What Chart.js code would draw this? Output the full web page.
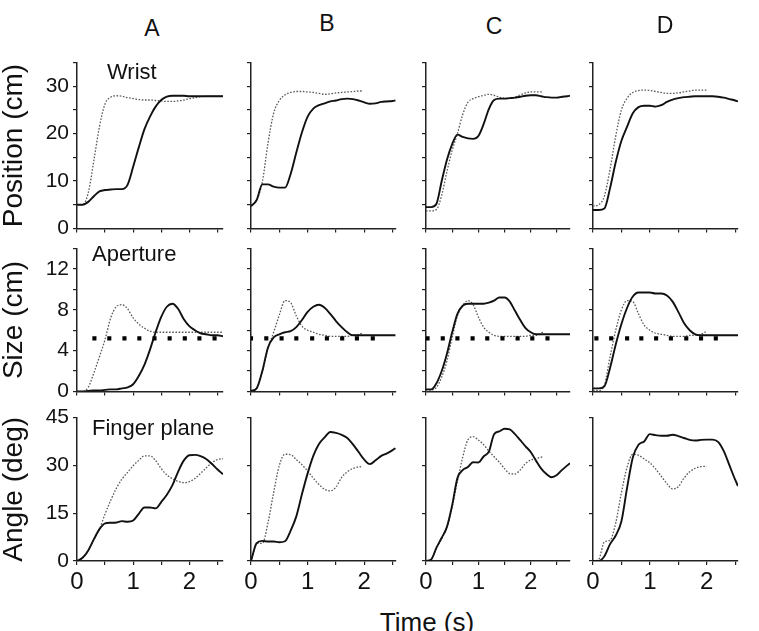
<!DOCTYPE html>
<html><head><meta charset="utf-8">
<script src="https://cdn.jsdelivr.net/npm/chart.js@4.4.1/dist/chart.umd.min.js"></script>
<style>
html,body{margin:0;padding:0;background:#fff;}
body{width:759px;height:631px;overflow:hidden;position:relative;font-family:"Liberation Sans",Arial,sans-serif;color:#111;}
canvas{position:absolute;}
.lbl{position:absolute;white-space:nowrap;line-height:1;}
</style></head><body>
<script>
// ---------- DATA ----------
const columnNames = ['A','B','C','D'];
const panelNames = ['Wrist','Aperture','Finger plane'];
const yTitles = ['Position (cm)','Size (cm)','Angle (deg)'];
const xTitle = 'Time (s)';

// time bases (s)
const tA = [0,0.1,0.2,0.3,0.4,0.5,0.6,0.7,0.8,0.9,1.0,1.1,1.2,1.3,1.4,1.5,1.6,1.7,1.8,1.9,2.0,2.1,2.2,2.3,2.4,2.5,2.6];
const tB = [0,0.1,0.2,0.3,0.4,0.5,0.6,0.7,0.8,0.9,1.0,1.1,1.2,1.3,1.4,1.5,1.6,1.7,1.8,1.9,2.0,2.1,2.2,2.3,2.4,2.5,2.55];
const tC = [0,0.1,0.2,0.3,0.4,0.5,0.6,0.7,0.8,0.9,1.0,1.1,1.2,1.3,1.4,1.5,1.6,1.7,1.8,1.9,2.0,2.1,2.2,2.3,2.4,2.5,2.6,2.7,2.75];
const tD = [0,0.1,0.2,0.3,0.4,0.5,0.6,0.7,0.8,0.9,1.0,1.1,1.2,1.3,1.4,1.5,1.6,1.7,1.8,1.9,2.0,2.1,2.2,2.3,2.4,2.5,2.55];
const tBdot = [0,0.1,0.2,0.3,0.4,0.5,0.6,0.7,0.8,0.9,1.0,1.1,1.2,1.3,1.4,1.5,1.6,1.7,1.8,1.9,1.96];
const tCdot = [0,0.1,0.2,0.3,0.4,0.5,0.6,0.7,0.8,0.9,1.0,1.1,1.2,1.3,1.4,1.5,1.6,1.7,1.8,1.9,2.0,2.1,2.2,2.24];
const tDdot = [0,0.1,0.2,0.3,0.4,0.5,0.6,0.7,0.8,0.9,1.0,1.1,1.2,1.3,1.4,1.5,1.6,1.7,1.8,1.9,2.0];

// Wrist position (cm): solid and dotted
const posA_solid = [5.0,5.0,5.6,6.8,7.8,8.1,8.2,8.3,8.3,9.2,13.0,17.1,20.9,23.6,25.7,27.1,27.8,28.0,28.0,28.0,27.9,27.9,27.9,27.9,27.9,27.9,27.9];
const posA_dot   = [5.0,5.0,7.5,14.3,21.5,26.3,27.7,28.0,27.9,27.6,27.4,27.2,27.1,27.1,27.0,26.9,26.8,26.8,26.9,27.1,27.4,27.6,27.8,27.9,27.9,27.9,27.9];
const posB_solid = [4.7,6.0,9.3,9.3,8.8,8.6,8.6,11.5,16.0,20.3,23.6,25.3,26.0,26.4,26.8,27.0,27.3,27.4,27.3,27.0,26.6,26.3,26.4,26.7,26.8,26.9,27.0];
const posB_dot   = [4.7,6.0,9.8,18.0,24.3,27.0,28.2,28.7,28.9,28.9,28.8,28.7,28.5,28.3,28.4,28.6,28.7,28.8,28.9,29.0,29.0];
const posC_solid = [4.5,4.5,5.2,10.0,14.5,17.8,19.8,19.3,19.0,18.9,19.5,22.0,25.2,27.1,27.4,27.4,27.5,27.6,27.8,28.0,28.1,28.1,27.9,27.7,27.6,27.6,27.8,27.9,28.0];
const posC_dot   = [3.7,3.7,4.0,7.0,12.0,16.5,20.0,24.0,26.6,27.4,27.8,28.1,28.3,28.1,27.7,27.5,27.5,27.7,28.2,28.6,28.8,28.8,28.8,28.7];
const posD_solid = [3.9,3.9,4.2,8.5,14.0,18.5,21.5,24.3,25.6,25.9,25.9,25.7,26.0,26.7,27.2,27.5,27.7,27.8,27.9,27.9,27.9,27.9,27.8,27.6,27.3,27.0,26.8];
const posD_dot   = [4.7,5.0,6.8,12.5,19.5,25.0,27.5,28.7,29.1,29.2,29.1,28.9,28.7,28.5,28.5,28.6,28.8,29.0,29.2,29.2,29.2];

// Aperture size (cm)
const sizeA_solid = [0,0,0.05,0.1,0.1,0.15,0.2,0.2,0.3,0.4,0.7,1.5,2.6,4.1,5.8,7.3,8.3,8.6,8.1,7.1,6.4,6.0,5.7,5.6,5.5,5.5,5.4];
const sizeA_dot   = [0,0,0.4,1.8,3.4,5.1,7.2,8.3,8.5,8.1,7.2,6.6,6.2,5.9,5.8,5.8,5.8,5.8,5.8,5.8,5.8,5.8,5.8,5.8,5.8,5.8,5.8];
const sizeB_solid = [0.05,0.3,2.0,4.3,5.3,5.6,5.8,5.9,6.3,7.0,7.8,8.3,8.5,8.2,7.6,6.9,6.3,5.8,5.5,5.5,5.5,5.5,5.5,5.5,5.5,5.5,5.5];
const sizeB_dot   = [0.05,0.3,1.9,4.2,5.8,7.5,8.9,8.7,7.4,6.4,6.0,5.8,5.6,5.5,5.4,5.4,5.4,5.4,5.5,5.6,5.7];
const sizeC_solid = [0.2,0.2,0.8,2.0,3.7,5.8,7.6,8.4,8.6,8.6,8.6,8.6,8.7,8.9,9.2,9.2,8.8,7.9,7.0,6.2,5.8,5.6,5.6,5.6,5.6,5.6,5.6,5.6,5.6];
const sizeC_dot   = [0,0.1,0.4,1.4,3.0,5.3,7.4,8.4,8.9,8.5,7.3,6.3,5.8,5.5,5.4,5.4,5.4,5.4,5.4,5.4,5.5,5.5,5.7,5.9];
const sizeD_solid = [0.3,0.3,0.5,2.3,4.6,6.6,8.2,9.3,9.7,9.7,9.7,9.6,9.6,9.4,8.8,7.8,6.7,6.0,5.6,5.5,5.5,5.5,5.5,5.5,5.5,5.5,5.5];
const sizeD_dot   = [0.1,0.1,0.6,3.4,6.0,8.0,8.9,8.8,7.6,6.5,6.0,5.7,5.6,5.5,5.4,5.4,5.4,5.5,5.5,5.6,5.9];

// object size marks (square dots)
const markValue = 5.2;
const markTA = [0.31,0.575,0.845,1.11,1.38,1.65,1.92,2.18,2.45];
const markTB = [0,0.27,0.54,0.8,1.08,1.34,1.61,1.87,2.15];
const markTC = [0.03,0.32,0.6,0.89,1.17,1.46,1.75,2.03,2.32];
const markTD = [0.06,0.32,0.6,0.85,1.11,1.37,1.64,1.9,2.16];

// Finger plane angle (deg)
const angA_solid = [0,1.0,3.3,6.8,10.0,11.8,12.0,12.1,12.5,12.3,12.7,14.8,16.8,16.8,16.5,18.5,20.8,23.8,28.0,31.5,33.2,33.3,32.9,32.0,30.5,28.8,27.2];
const angA_dot   = [0,1.0,3.3,6.8,10.0,14.8,19.0,22.8,25.7,27.8,29.9,31.6,33.0,33.0,31.5,29.0,27.0,25.8,25.0,24.6,24.9,25.9,27.5,29.2,30.8,31.8,32.1];
const angB_solid = [0,5.6,6.3,6.1,6.1,5.9,6.2,9.5,14.0,21.0,27.5,33.0,36.7,38.8,40.5,40.2,39.6,38.6,36.6,34.2,31.8,30.4,31.6,33.0,33.8,34.8,35.4];
const angB_dot   = [0,5.6,5.5,12.0,21.5,30.0,33.5,33.4,31.8,30.2,28.2,26.0,24.0,22.5,22.0,23.2,26.2,28.0,29.0,29.5,29.7];
const angC_solid = [0,0.5,4.2,7.3,10.7,17.5,26.0,28.5,29.5,31.0,30.9,32.8,34.3,39.8,40.7,41.5,41.3,39.8,37.9,36.0,34.2,31.5,29.0,27.3,26.3,27.0,28.6,30.0,30.7];
const angC_dot   = [0,0.5,4.0,7.0,10.5,17.0,25.0,32.5,38.0,39.0,38.0,36.5,34.5,32.7,31.0,29.0,27.4,27.3,28.6,30.6,31.7,32.1,32.6,32.8];
const angD_solid = [0,0,1.5,5.3,8.0,12.5,23.0,32.5,36.5,37.5,39.8,39.5,39.3,39.3,39.6,39.2,38.6,38.0,37.8,38.0,38.1,38.1,37.4,34.5,30.0,25.5,23.5];
const angD_dot   = [0,0.5,6.0,6.5,12.0,21.5,29.5,33.5,33.2,32.0,30.8,28.9,26.6,24.3,22.6,23.3,26.0,28.0,29.1,29.6,29.7];

// axis ranges / ticks
const xMaxByCol = [2.6, 2.56, 2.75, 2.55];
const yMaxByRow = [35, 14, 45];
const yStepByRow = [5, 2, 15];
const yLabelEveryByRow = [10, 4, 15];
const xStep = 0.5;

// ---------- PANELS ----------
const panels = [
  [ {s:[tA,posA_solid], d:[tA,posA_dot]}, {s:[tB,posB_solid], d:[tBdot,posB_dot]}, {s:[tC,posC_solid], d:[tCdot,posC_dot]}, {s:[tD,posD_solid], d:[tDdot,posD_dot]} ],
  [ {s:[tA,sizeA_solid], d:[tA,sizeA_dot], m:markTA}, {s:[tB,sizeB_solid], d:[tBdot,sizeB_dot], m:markTB}, {s:[tC,sizeC_solid], d:[tCdot,sizeC_dot], m:markTC}, {s:[tD,sizeD_solid], d:[tDdot,sizeD_dot], m:markTD} ],
  [ {s:[tA,angA_solid], d:[tA,angA_dot]}, {s:[tB,angB_solid], d:[tBdot,angB_dot]}, {s:[tC,angC_solid], d:[tCdot,angC_dot]}, {s:[tD,angD_solid], d:[tDdot,angD_dot]} ]
];

// ---------- LAYOUT (page pixels) ----------
const colBox = [ {x0:77,x1:223,L:77}, {x0:251,x1:396,L:16}, {x0:426,x1:570,L:16}, {x0:593,x1:738,L:16} ];
const rowBox = [ {y0:60,y1:229,B:16}, {y0:246,y1:392,B:16}, {y0:415,y1:561,B:42} ];
const T = 14, R = 8;
const FONT = "'Liberation Sans', Arial, Helvetica, sans-serif";
Chart.defaults.font.family = FONT;
Chart.defaults.color = '#111';

const pts = (t, v) => v.map((y, i) => ({x: t[i], y}));
const isMult = (v, m) => Math.abs(v / m - Math.round(v / m)) < 1e-6;

for (let r = 0; r < 3; r++) {
  for (let c = 0; c < 4; c++) {
    const cb = colBox[c], rb = rowBox[r], p = panels[r][c];
    const w = (cb.x1 - cb.x0) + cb.L + R;
    const h = (rb.y1 - rb.y0) + T + rb.B;
    const cv = document.createElement('canvas');
    cv.width = w; cv.height = h;
    cv.style.left = (cb.x0 - cb.L) + 'px';
    cv.style.top = (rb.y0 - T) + 'px';
    cv.style.width = w + 'px'; cv.style.height = h + 'px';
    document.body.appendChild(cv);

    const datasets = [
      {data: pts(p.d[0], p.d[1]), borderColor:'#5a5a5a', borderWidth:1.3, borderDash:[1.6,1.6],
       pointRadius:0, cubicInterpolationMode:'monotone', fill:false, order:2},
      {data: pts(p.s[0], p.s[1]), borderColor:'#111', borderWidth:1.9,
       pointRadius:0, cubicInterpolationMode:'monotone', fill:false, order:1}
    ];
    if (p.m) {
      datasets.push({data: p.m.map(t => ({x:t, y:markValue})), showLine:false, pointStyle:'rect',
        pointRadius:2.9, pointBackgroundColor:'#000', pointBorderWidth:0, borderColor:'#000', order:0});
    }

    new Chart(cv, {
      type:'line',
      data:{datasets},
      options:{
        responsive:false, animation:false, devicePixelRatio:1,
        layout:{padding:{top:T, right:R, left:0, bottom:0}},
        plugins:{legend:{display:false}, tooltip:{enabled:false}},
        events:[],
        scales:{
          x:{
            type:'linear', min:0, max:xMaxByCol[c],
            afterFit: s => { s.height = rb.B; },
            grid:{drawOnChartArea:false, drawTicks:true, tickLength:4, color:'#222', lineWidth:1.2},
            border:{display:true, color:'#222', width:1.5},
            ticks:{stepSize:xStep, autoSkip:false, includeBounds:false, maxRotation:0, minRotation:0, padding:3,
              font:{size:24, family:FONT}, color:'#111',
              callback: v => (r === 2 && isMult(v, 1)) ? String(Math.round(v)) : ''}
          },
          y:{
            type:'linear', min:0, max:yMaxByRow[r],
            afterFit: s => { s.width = cb.L; },
            grid:{drawOnChartArea:false, drawTicks:true, tickLength:4, color:'#222', lineWidth:1.2},
            border:{display:true, color:'#222', width:1.5},
            ticks:{stepSize:yStepByRow[r], autoSkip:false, includeBounds:false, padding:4,
              font:{size:21, family:FONT}, color:'#111',
              callback: v => (c === 0 && isMult(v, yLabelEveryByRow[r])) ? String(Math.round(v)) : ''},
            title:{display: c === 0, text: yTitles[r], font:{size:28, family:FONT, lineHeight:1}, padding:0, color:'#111'}
          }
        }
      }
    });
  }
}

// ---------- TEXT LABELS ----------
function addLabel(text, left, top, size, center) {
  const d = document.createElement('div');
  d.className = 'lbl';
  d.textContent = text;
  d.style.fontSize = size + 'px';
  d.style.top = top + 'px';
  if (center) { d.style.left = left + 'px'; d.style.transform = 'translateX(-50%)'; }
  else d.style.left = left + 'px';
  document.body.appendChild(d);
}
const letterPos = [[152,17],[327,12],[494,15],[665,14]];
columnNames.forEach((n, i) => addLabel(n, letterPos[i][0], letterPos[i][1], 23, true));
const panelLabelPos = [[107,61],[92,243],[92,417]];
panelNames.forEach((n, i) => addLabel(n, panelLabelPos[i][0], panelLabelPos[i][1], 22, false));
addLabel(xTitle, 427, 609, 26, true);
</script>
</body></html>
